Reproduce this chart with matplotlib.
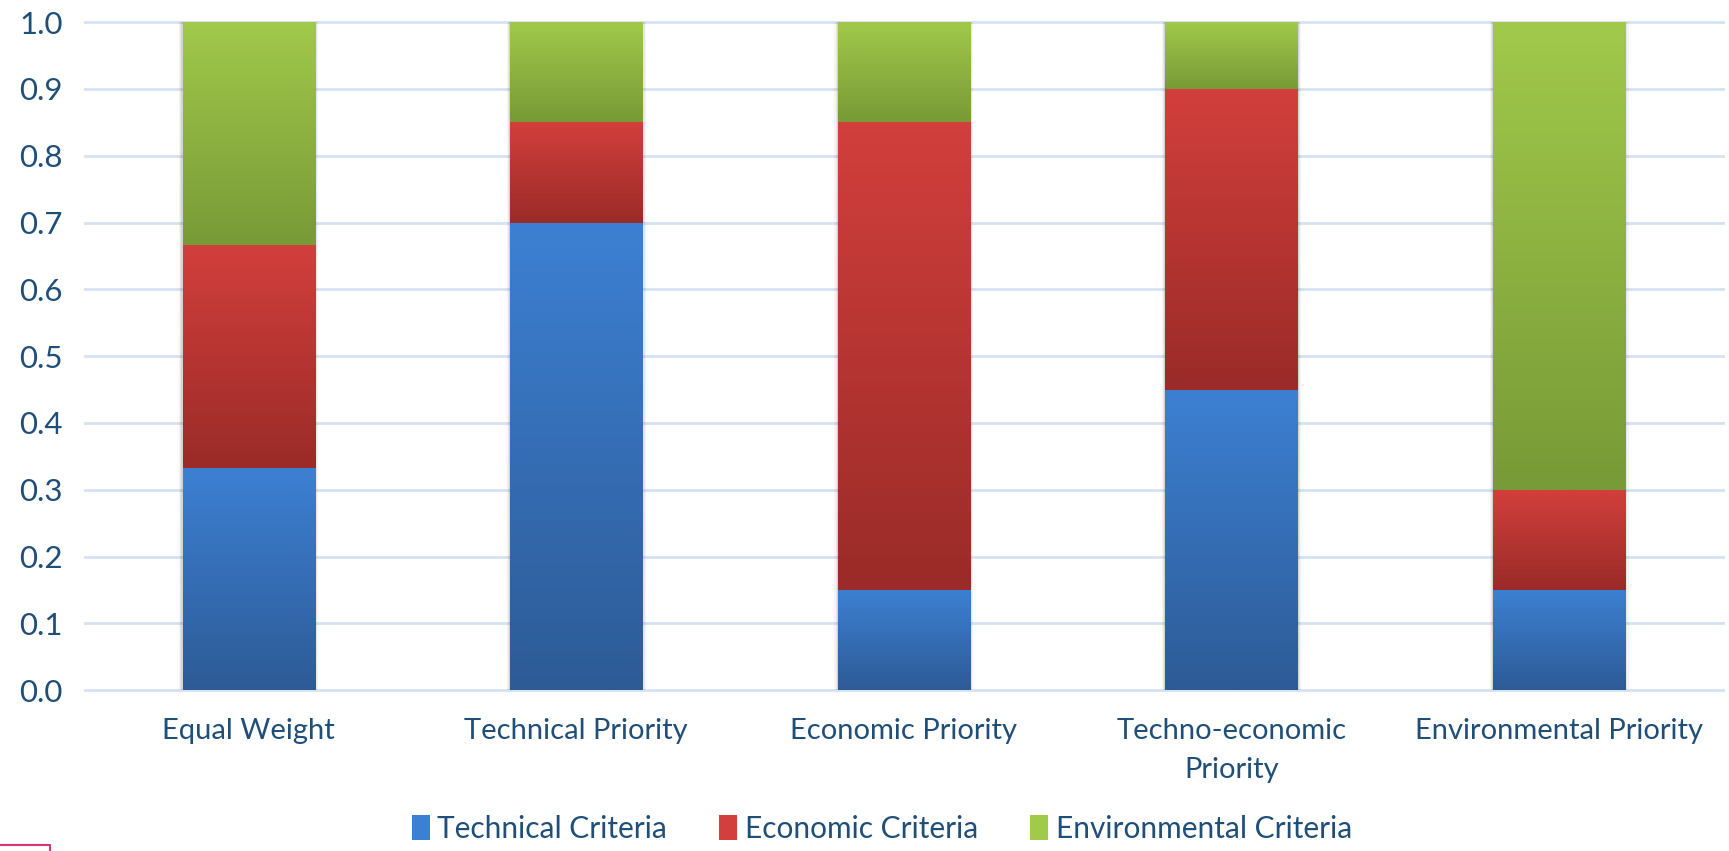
import matplotlib
matplotlib.use('Agg')
import matplotlib.pyplot as plt
import numpy as np
from matplotlib.colors import LinearSegmentedColormap
from matplotlib.patches import Rectangle
from matplotlib.lines import Line2D

plt.rcParams['font.family'] = ['Lato', 'DejaVu Sans']

# scenarios and the weight of each criteria group
categories = ['Equal Weight', 'Technical Priority', 'Economic Priority',
              'Techno-economic\nPriority', 'Environmental Priority']
technical = [0.333, 0.70, 0.15, 0.45, 0.15]
economic = [0.333, 0.15, 0.70, 0.45, 0.15]
environmental = [0.334, 0.15, 0.15, 0.10, 0.70]
series_names = ['Technical Criteria', 'Economic Criteria', 'Environmental Criteria']
y_ticks = [0.0, 0.1, 0.2, 0.3, 0.4, 0.5, 0.6, 0.7, 0.8, 0.9, 1.0]

# (top colour, bottom colour) of the gradient for each series
shades = [('#3d80d3', '#2d5b96'), ('#d23f3c', '#9a2b28'), ('#a1c94a', '#789a37')]
text_color = '#1f4e79'

fig = plt.figure(figsize=(17.29, 8.51), dpi=100)
ax = fig.add_axes([0.049, 0.189, 0.9475, 0.785])

x = np.arange(len(categories))
width = 0.403


def shade(patch, top, bottom):
    # fill a bar patch with a vertical gradient, light on top
    x0, y0 = patch.get_x(), patch.get_y()
    w, h = patch.get_width(), patch.get_height()
    cmap = LinearSegmentedColormap.from_list('g', [bottom, top])
    grad = np.linspace(0, 1, 256).reshape(-1, 1)
    im = ax.imshow(grad, cmap=cmap, extent=(x0, x0 + w, y0, y0 + h),
                   origin='lower', aspect='auto', zorder=3, interpolation='bilinear')
    im.set_clip_path(patch)
    patch.set_facecolor('none')


# soft shadow behind each stack
totals = np.array(technical) + np.array(economic) + np.array(environmental)
for spread, alpha in [(0.022, 0.04), (0.014, 0.06), (0.007, 0.08)]:
    ax.bar(x, totals, width + spread, color='#000000', alpha=alpha, zorder=2, linewidth=0)

bottom = np.zeros(len(categories))
for vals, (top_c, bot_c) in zip([technical, economic, environmental], shades):
    bars = ax.bar(x, vals, width, bottom=bottom, edgecolor='none', zorder=3)
    for p in bars:
        shade(p, top_c, bot_c)
    bottom += np.array(vals)

ax.set_xlim(-0.5, len(categories) - 0.5)
ax.set_ylim(0, 1)
ax.set_yticks(y_ticks)
ax.set_yticklabels([f'{v:.1f}' for v in y_ticks])
ax.set_xticks(x)
ax.set_xticklabels(categories, linespacing=1.6)
ax.tick_params(axis='y', length=0, pad=16, labelsize=22.5, labelcolor=text_color)
ax.tick_params(axis='x', length=0, pad=20, labelsize=21, labelcolor=text_color)
for s in ax.spines.values():
    s.set_visible(False)
ax.yaxis.grid(True, color='#d5e2f1', linewidth=2, zorder=0)
for gl in ax.get_ygridlines():
    gl.set_clip_on(False)
ax.set_axisbelow(True)

handles = [Rectangle((0, 0), 1, 1, facecolor=c[0], edgecolor='none') for c in shades]
fig.legend(handles, series_names, loc='center', bbox_to_anchor=(0.51, 0.026), ncol=3,
           frameon=False, fontsize=21.5, labelcolor=text_color, handlelength=0.6,
           handleheight=0.9, handletextpad=0.25, columnspacing=1.75)

# small pink box edge in the lower left corner
fig.add_artist(Line2D([0, 50 / 1729, 50 / 1729], [1 - 845 / 851, 1 - 845 / 851, 0],
                      color='#e0307a', linewidth=1.5, transform=fig.transFigure))

fig.savefig('out.png', dpi=100)
